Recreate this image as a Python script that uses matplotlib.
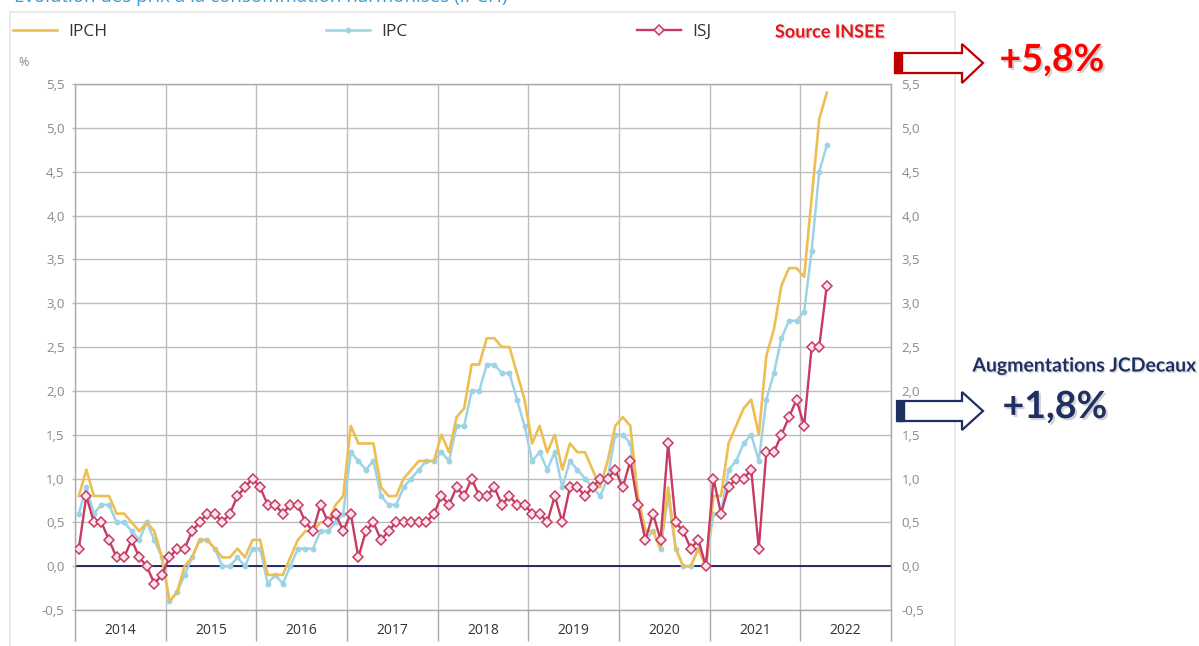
import matplotlib
matplotlib.use("Agg")
import matplotlib.pyplot as plt
import matplotlib.patheffects as pe
from matplotlib.patches import Polygon, Rectangle
from matplotlib.ticker import FixedLocator, FixedFormatter
import numpy as np

# ---------------- data (monthly, Jan 2014 -> Apr 2022, % yoy) ----------------
years = ["2014", "2015", "2016", "2017", "2018", "2019", "2020", "2021", "2022"]

ipch = [0.8, 1.1, 0.8, 0.8, 0.8, 0.6, 0.6, 0.5, 0.4, 0.5, 0.4, 0.1,
        -0.4, -0.3, 0.0, 0.1, 0.3, 0.3, 0.2, 0.1, 0.1, 0.2, 0.1, 0.3,
        0.3, -0.1, -0.1, -0.1, 0.1, 0.3, 0.4, 0.4, 0.5, 0.5, 0.7, 0.8,
        1.6, 1.4, 1.4, 1.4, 0.9, 0.8, 0.8, 1.0, 1.1, 1.2, 1.2, 1.2,
        1.5, 1.3, 1.7, 1.8, 2.3, 2.3, 2.6, 2.6, 2.5, 2.5, 2.2, 1.9,
        1.4, 1.6, 1.3, 1.5, 1.1, 1.4, 1.3, 1.3, 1.1, 0.9, 1.2, 1.6,
        1.7, 1.6, 0.8, 0.4, 0.4, 0.2, 0.9, 0.2, 0.0, 0.0, 0.2, 0.0,
        0.8, 0.8, 1.4, 1.6, 1.8, 1.9, 1.5, 2.4, 2.7, 3.2, 3.4, 3.4,
        3.3, 4.2, 5.1, 5.4]

ipc = [0.6, 0.9, 0.6, 0.7, 0.7, 0.5, 0.5, 0.4, 0.3, 0.5, 0.3, 0.1,
       -0.4, -0.3, -0.1, 0.1, 0.3, 0.3, 0.2, 0.0, 0.0, 0.1, 0.0, 0.2,
       0.2, -0.2, -0.1, -0.2, 0.0, 0.2, 0.2, 0.2, 0.4, 0.4, 0.5, 0.6,
       1.3, 1.2, 1.1, 1.2, 0.8, 0.7, 0.7, 0.9, 1.0, 1.1, 1.2, 1.2,
       1.3, 1.2, 1.6, 1.6, 2.0, 2.0, 2.3, 2.3, 2.2, 2.2, 1.9, 1.6,
       1.2, 1.3, 1.1, 1.3, 0.9, 1.2, 1.1, 1.0, 0.9, 0.8, 1.0, 1.5,
       1.5, 1.4, 0.7, 0.3, 0.4, 0.2, 0.8, 0.2, 0.0, 0.0, 0.2, 0.0,
       0.6, 0.6, 1.1, 1.2, 1.4, 1.5, 1.2, 1.9, 2.2, 2.6, 2.8, 2.8,
       2.9, 3.6, 4.5, 4.8]

isj = [0.2, 0.8, 0.5, 0.5, 0.3, 0.1, 0.1, 0.3, 0.1, 0.0, -0.2, -0.1,
       0.1, 0.2, 0.2, 0.4, 0.5, 0.6, 0.6, 0.5, 0.6, 0.8, 0.9, 1.0,
       0.9, 0.7, 0.7, 0.6, 0.7, 0.7, 0.5, 0.4, 0.7, 0.5, 0.6, 0.4,
       0.6, 0.1, 0.4, 0.5, 0.3, 0.4, 0.5, 0.5, 0.5, 0.5, 0.5, 0.6,
       0.8, 0.7, 0.9, 0.8, 1.0, 0.8, 0.8, 0.9, 0.7, 0.8, 0.7, 0.7,
       0.6, 0.6, 0.5, 0.8, 0.5, 0.9, 0.9, 0.8, 0.9, 1.0, 1.0, 1.1,
       0.9, 1.2, 0.7, 0.3, 0.6, 0.3, 1.4, 0.5, 0.4, 0.2, 0.3, 0.0,
       1.0, 0.6, 0.9, 1.0, 1.0, 1.1, 0.2, 1.3, 1.3, 1.5, 1.7, 1.9,
       1.6, 2.5, 2.5, 3.2]

yticks = [-0.5, 0.0, 0.5, 1.0, 1.5, 2.0, 2.5, 3.0, 3.5, 4.0, 4.5, 5.0, 5.5]
series_labels = ["IPCH", "IPC", "ISJ"]
note_source = "Source INSEE"
note_top = "+5,8%"
note_mid_title = "Augmentations JCDecaux"
note_mid = "+1,8%"

# ---------------- style ----------------
W, H = 1199, 646
C_IPCH = "#EDBE52"
C_IPC = "#9ED3E6"
C_ISJ = "#C73A62"
C_RED = "#FF0000"
C_DRED = "#C00000"
C_NAVY = "#1F2F62"
GRID = "#BDBDBD"
TICKC = "#8A8A8A"

plt.rcParams["font.family"] = ["Open Sans", "DejaVu Sans"]

fig = plt.figure(figsize=(W / 100, H / 100), dpi=100)
fig.patch.set_facecolor("white")


def fx(x):
    return x / W


def fy(y):
    return 1 - y / H


# panel border
fig.add_artist(Rectangle((fx(10), fy(700)), fx(955) - fx(10), fy(12) - fy(700),
                         transform=fig.transFigure, fill=False,
                         edgecolor="#E6E6E6", lw=1.2))

# title of the source chart, cropped at the top edge as in the reference
fig.text(fx(14), fy(1.5), "Évolution des prix à la consommation harmonisés (IPCH)",
         color="#3B9AD6", fontsize=13.5, va="baseline", ha="left")

ax = fig.add_axes([fx(75), fy(610), fx(891) - fx(75), fy(84) - fy(610)])
x = np.arange(len(ipch))

l_ipc, = ax.plot(x, ipc, color=C_IPC, lw=1.8, marker="o", ms=3.2,
                 mec=C_IPC, mfc=C_IPC, zorder=3)
l_ipch, = ax.plot(x, ipch, color=C_IPCH, lw=1.9, zorder=4)
l_isj, = ax.plot(x, isj, color=C_ISJ, lw=1.7, marker="D", ms=4.6,
                 mfc="#FCE6EE", mec=C_ISJ, mew=1.1, zorder=5)

ax.axhline(0, color="#1A1A5C", lw=1.3, zorder=2.5)

nyears = len(years)
ax.set_xlim(-0.5, nyears * 12 - 0.5)
ax.set_ylim(-0.5, 5.5)

# x axis: dividers as major ticks, year labels as minor ticks
div = [12 * k - 0.5 for k in range(nyears + 1)]
centers = [12 * k + 5.5 for k in range(nyears)]
ax.xaxis.set_major_locator(FixedLocator(div))
ax.xaxis.set_major_formatter(FixedFormatter([""] * len(div)))
ax.xaxis.set_minor_locator(FixedLocator(centers))
ax.xaxis.set_minor_formatter(FixedFormatter(years))
ax.tick_params(axis="x", which="major", length=22, width=1, color="#A8A8A8",
               direction="out")
ax.tick_params(axis="x", which="minor", length=0, pad=9, labelsize=10,
               labelcolor="#333333")

ax.yaxis.set_major_locator(FixedLocator(yticks))
ax.yaxis.set_major_formatter(FixedFormatter(
    [f"{v:.1f}".replace(".", ",") for v in yticks]))
ax.tick_params(axis="y", which="major", length=2.5, width=1, color=GRID,
               labelsize=9.5, labelcolor=TICKC, pad=5,
               right=True, labelright=True)
for t in ax.yaxis.get_major_ticks():
    t.tick2line.set_markersize(0)

ax.grid(True, axis="both", which="major", color=GRID, lw=1, zorder=1)
ax.set_axisbelow(True)
for s in ax.spines.values():
    s.set_color("#AAAAAA")
    s.set_linewidth(1)
ax.set_facecolor("white")

fig.text(fx(18), fy(62), "%", color=TICKC, fontsize=9, va="center")

# legend (three separate entries)
for h, lab, xp in [(l_ipch, series_labels[0], 13),
                   (l_ipc, series_labels[1], 326),
                   (l_isj, series_labels[2], 637)]:
    lg = fig.legend(handles=[h], labels=[lab], loc="center left",
                    bbox_to_anchor=(fx(xp), fy(32)), frameon=False,
                    handlelength=2.55, handletextpad=0.65, borderpad=0,
                    borderaxespad=0, fontsize=12.5, numpoints=1)
    for t in lg.get_texts():
        t.set_color("#333333")

# annotations
shadow = [pe.withSimplePatchShadow(offset=(1.5, -1.5), shadow_rgbFace="#808080",
                                   alpha=0.35)]
shadow_s = [pe.withSimplePatchShadow(offset=(1, -1), shadow_rgbFace="#808080",
                                     alpha=0.3)]
fig.text(fx(830), fy(32), note_source, color="#E8141B", fontsize=13,
         fontweight="bold", family=["Lato", "DejaVu Sans"], ha="center",
         va="center", path_effects=shadow_s)
fig.text(fx(1052), fy(60), note_top, color=C_RED, fontsize=27,
         fontweight="bold", family=["Lato", "DejaVu Sans"], ha="center",
         va="center", path_effects=shadow)
fig.text(fx(1085), fy(366), note_mid_title, color=C_NAVY, fontsize=14,
         fontweight="bold", family=["Lato", "DejaVu Sans"], ha="center",
         va="center", path_effects=shadow_s)
fig.text(fx(1055), fy(407), note_mid, color=C_NAVY, fontsize=27,
         fontweight="bold", family=["Lato", "DejaVu Sans"], ha="center",
         va="center", path_effects=shadow)


def block_arrow(x0, ytop, ybot, xh, yht, yhb, xt, color):
    ym = (ytop + ybot) / 2
    pts = [(x0, ytop), (xh, ytop), (xh, yht), (xt, ym), (xh, yhb), (xh, ybot),
           (x0, ybot)]
    fig.add_artist(Polygon([(fx(a), fy(b)) for a, b in pts], closed=True,
                           transform=fig.transFigure, facecolor="white",
                           edgecolor=color, lw=1.6, joinstyle="miter"))
    fig.add_artist(Rectangle((fx(x0), fy(ybot)), fx(x0 + 7) - fx(x0),
                             fy(ytop) - fy(ybot), transform=fig.transFigure,
                             facecolor=color, edgecolor=color, lw=1))


block_arrow(895, 53, 73, 962, 44, 83, 983, C_DRED)
block_arrow(897, 401, 421, 962, 392, 430, 983, C_NAVY)

fig.savefig("out.png", dpi=100, facecolor="white")
